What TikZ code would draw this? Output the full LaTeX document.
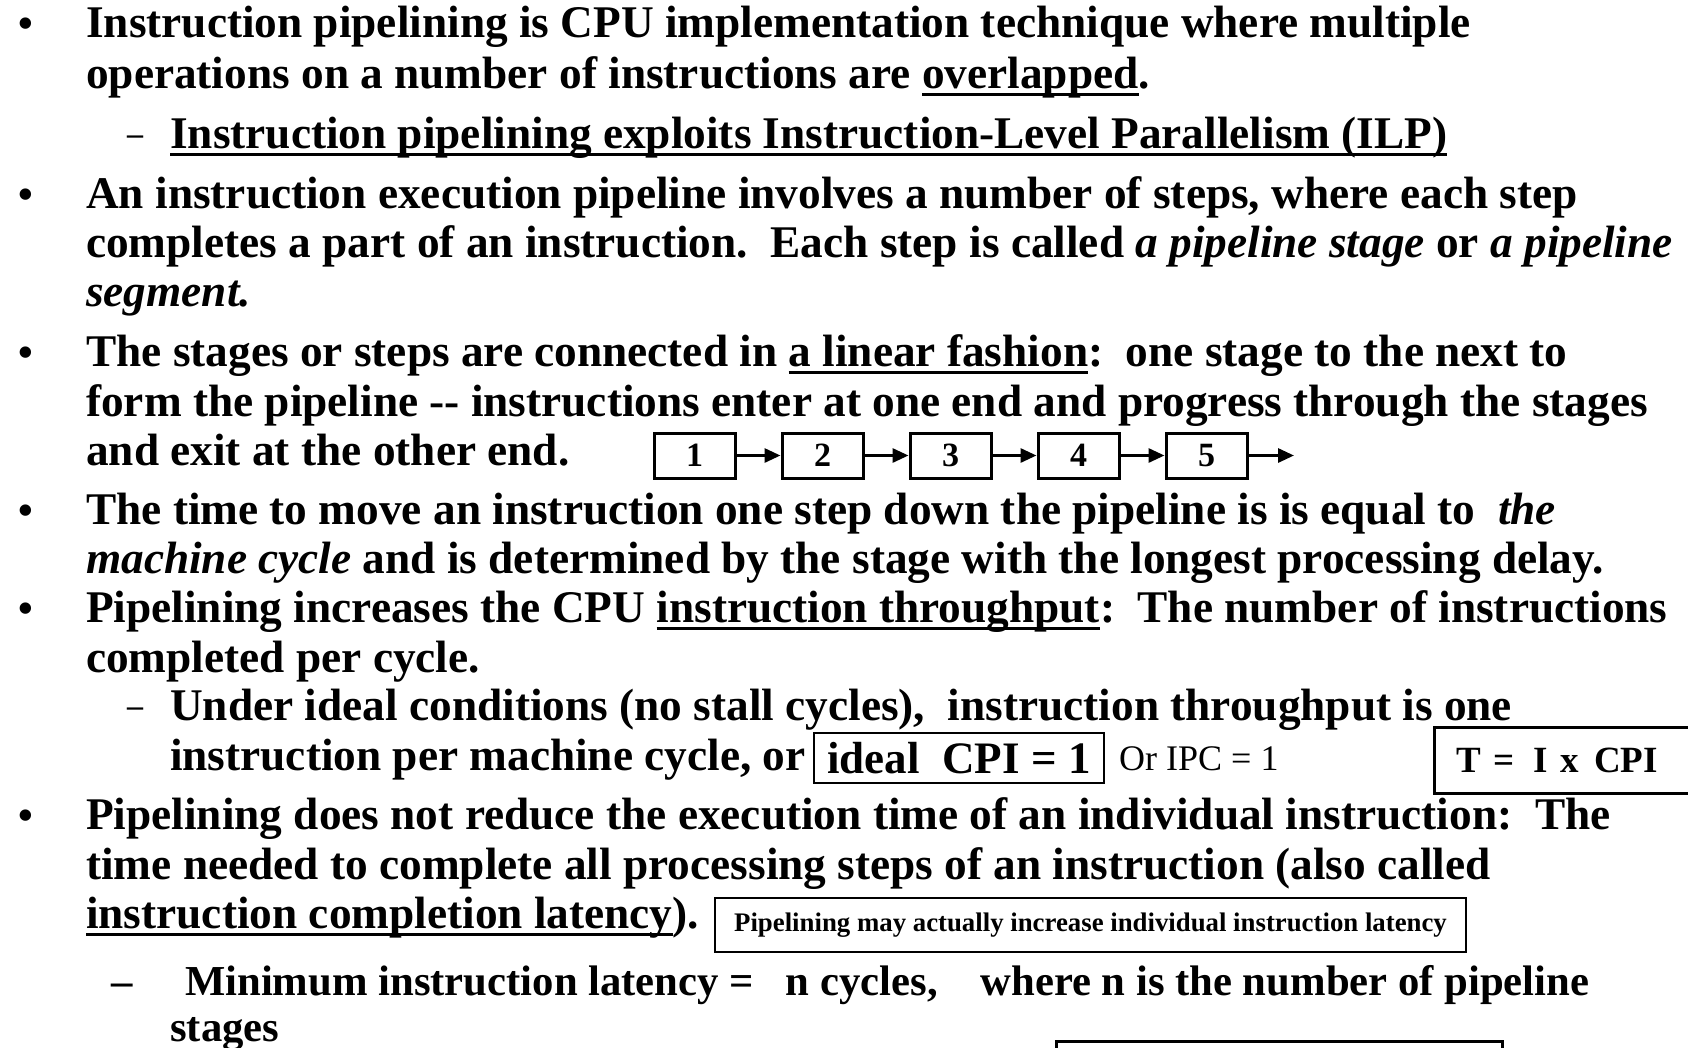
\documentclass[tikz,border=0pt]{standalone}
\usepackage{fontspec}
\setmainfont{Liberation Serif}
\usetikzlibrary{arrows.meta}
\newcommand{\ulx}[1]{\setbox0\hbox{#1}\rlap{\rule[-8pt]{\wd0}{3.5pt}}\box0}
\frenchspacing
\begin{document}
\begin{tikzpicture}[x=1pt,y=-1pt,
  txt/.style={anchor=base west, inner sep=0pt, font=\fontsize{45.3}{49}\selectfont\bfseries},
  txtsm/.style={anchor=base west, inner sep=0pt, font=\fontsize{42.7}{46}\selectfont\bfseries},
  bul/.style={anchor=base, inner sep=0pt, font=\fontsize{42}{42}\selectfont\bfseries},
  subdash/.style={anchor=base, inner sep=0pt, font=\fontsize{32}{32}\selectfont\bfseries},
  stagebox/.style={draw, line width=3pt, minimum width=81pt, minimum height=45pt, inner sep=0pt, font=\fontsize{34}{34}\selectfont\bfseries},
  arr/.style={line width=3pt, -{Triangle[length=16pt,width=14pt]}},
  framebox/.style={draw, line width=2.5pt, inner sep=0pt},
]
\fill[white] (0,0) rectangle (1688,1047);
\useasboundingbox (0,0) rectangle (1688,1047);

\node[bul] (b1) at (26,37) {•};
\node[txt] (l1) at (86,37) {Instruction pipelining is CPU implementation technique where multiple};
\node[txt] (l2) at (86,88) {operations on a number of instructions are \ulx{overlapped}.};
\node[subdash] (d1) at (135,148) {\raisebox{3.5pt}{–}};
\node[txt] (l3) at (170,148) {\ulx{Instruction pipelining exploits Instruction-Level Parallelism (ILP)}};

\node[bul] (b2) at (26,208) {•};
\node[txt] (l4) at (86,208) {An instruction execution pipeline involves a number of steps, where each step};
\node[txt] (l5) at (86,257) {completes a part of an instruction.\ \ Each step is called \textit{a pipeline stage} or \textit{a pipeline}};
\node[txt] (l6) at (86,306) {\textit{segment.}};

\node[bul] (b3) at (26,366) {•};
\node[txt] (l7) at (86,366) {The stages or steps are connected in \ulx{a linear fashion}:\ \ one stage to the next to};
\node[txt] (l8) at (86,416) {form the pipeline -{}- instructions enter at one end and progress through the stages};
\node[txt] (l9) at (86,465) {and exit at the other end.};

\node[stagebox] (s1) at (694.5,455.5) {1};
\node[stagebox] (s2) at (822.5,455.5) {2};
\node[stagebox] (s3) at (950.5,455.5) {3};
\node[stagebox] (s4) at (1078.5,455.5) {4};
\node[stagebox] (s5) at (1206.5,455.5) {5};
\coordinate (out) at (1294,455.5);
\draw[arr] (s1) -- (s2);
\draw[arr] (s2) -- (s3);
\draw[arr] (s3) -- (s4);
\draw[arr] (s4) -- (s5);
\draw[arr] (s5) -- (out);

\node[bul] (b4) at (26,524) {•};
\node[txt] (l10) at (86,524) {The time to move an instruction one step down the pipeline is is equal to\ \ \textit{the}};
\node[txt] (l11) at (86,573) {\textit{machine cycle} and is determined by the stage with the longest processing delay.};

\node[bul] (b5) at (26,622) {•};
\node[txt] (l12) at (86,622) {Pipelining increases the CPU \ulx{instruction throughput}:\ \ The number of instructions};
\node[txt] (l13) at (86,672) {completed per cycle.};
\node[subdash] (d2) at (135,720) {\raisebox{3.5pt}{–}};
\node[txt] (l14) at (170,720) {Under ideal conditions (no stall cycles),\ \ instruction throughput is one};
\node[txt] (l15) at (170,770) {instruction per machine cycle, or};
\node[framebox, minimum width=290pt, minimum height=50pt, font=\fontsize{45}{45}\selectfont\bfseries] (cpi) at (959,758) {ideal\ \ CPI = 1};
\node[anchor=base west, inner sep=0pt, font=\fontsize{36}{36}\selectfont] (ipc) at (1119,770) {Or IPC = 1};
\node[framebox, anchor=north west, minimum height=66pt, text width=250pt, align=left, inner xsep=22pt, font=\fontsize{37}{37}\selectfont\bfseries] (tic) at (1433,726) {T\ =\hspace{19pt}I\hspace{13pt}x\hspace{15pt}CPI};

\node[bul] (b6) at (26,829) {•};
\node[txt] (l16) at (86,829) {Pipelining does not reduce the execution time of an individual instruction:\ \ The};
\node[txt] (l17) at (86,879) {time needed to complete all processing steps of an instruction (also called};
\node[txt] (l18) at (86,928) {\ulx{instruction completion latency}).};
\node[framebox, minimum width=751pt, minimum height=54pt, font=\fontsize{26.8}{26.8}\selectfont\bfseries] (lat) at (1090.5,925) {Pipelining may actually increase individual instruction latency};
\node[txtsm, anchor=base] (d3) at (122,995) {–};
\node[txtsm] (l19) at (185,995) {Minimum instruction latency =\ \ \ n cycles,\ \ \ \ where n is the number of pipeline};
\node[txtsm] (l20) at (170,1041) {stages};
\node[framebox, anchor=north west, minimum width=446pt, minimum height=40pt] (bot) at (1055,1040) {};
\end{tikzpicture}
\end{document}
